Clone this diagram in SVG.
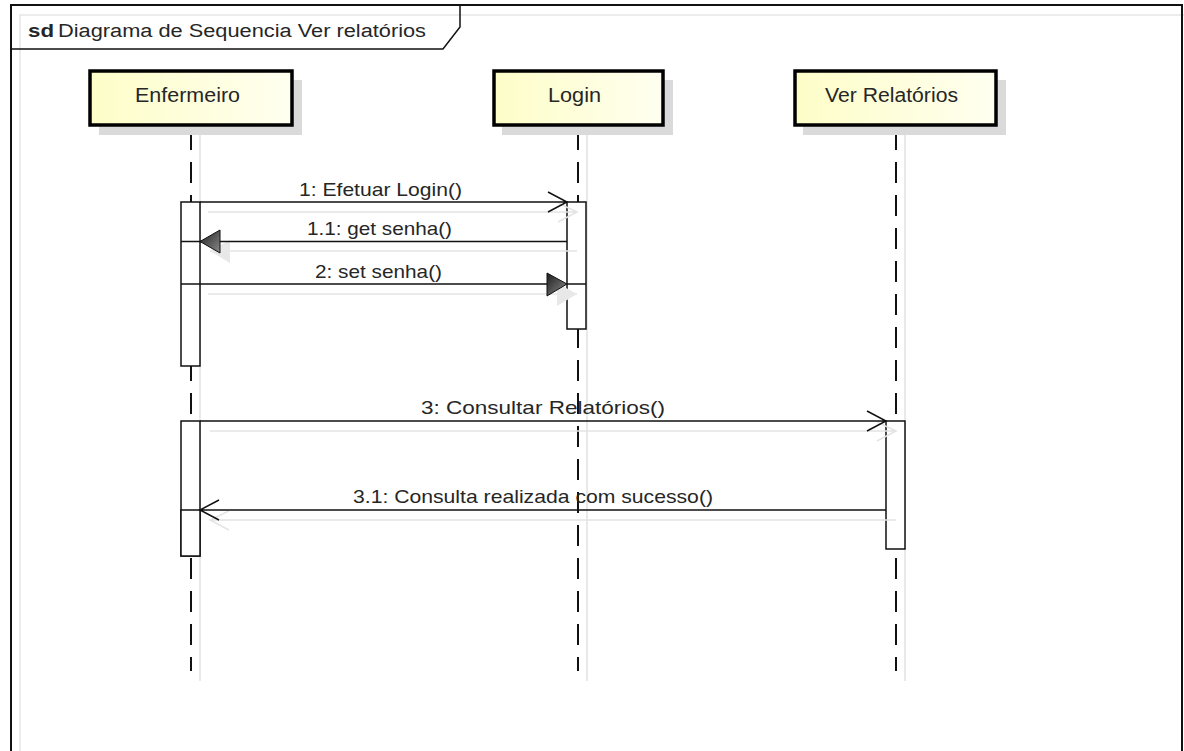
<svg xmlns="http://www.w3.org/2000/svg" width="1184" height="751" viewBox="0 0 1184 751">
<style>
text{font-family:"Liberation Sans",Arial,sans-serif;fill:#262626}
.lbl{font-size:19px;text-anchor:start}
.node{font-size:20px}
.life{stroke:#111;stroke-width:2;stroke-dasharray:21 12;fill:none}
.lifesh{stroke:#e2e2e2;stroke-width:1.5;fill:none}
.bar{fill:#fff;stroke:#111;stroke-width:1.5}
.msg{stroke:#111;stroke-width:1.5;fill:none}
.sh{stroke:#e4e4e4;stroke-width:1.5;fill:none}
.box{stroke:#000;stroke-width:3.5;fill:url(#yel)}
.boxsh{fill:#dadada}
</style>
<defs>
<linearGradient id="yel" x1="0" y1="0" x2="1" y2="0">
<stop offset="0" stop-color="#fdfdc8"/>
<stop offset="1" stop-color="#fffff0"/>
</linearGradient>
<linearGradient id="tri" x1="0" y1="0" x2="1" y2="1">
<stop offset="0" stop-color="#1e1e1e"/>
<stop offset="1" stop-color="#8a8a8a"/>
</linearGradient>
</defs>
<rect x="0" y="0" width="1184" height="751" fill="#fff"/>
<g id="frame">
<path d="M20 760 V15 H1190" fill="none" stroke="#e6e6e6" stroke-width="1.5"/>
<path d="M11 760 V5 H1182 V760" fill="none" stroke="#111" stroke-width="2"/>
<path d="M11 49 H443 L460 27 V5" fill="none" stroke="#111" stroke-width="1.5"/>
<text x="28" y="37" style="font-size:18px;font-weight:bold" textLength="26" lengthAdjust="spacingAndGlyphs">sd</text>
<text x="58" y="37" style="font-size:18px" textLength="368" lengthAdjust="spacingAndGlyphs">Diagrama de Sequencia Ver relatórios</text>
</g>
<g id="lifelines">
<line class="lifesh" x1="200" y1="135" x2="200" y2="681"/>
<line class="lifesh" x1="587" y1="135" x2="587" y2="681"/>
<line class="lifesh" x1="905" y1="135" x2="905" y2="681"/>
<line class="life" x1="191" y1="125" x2="191" y2="671" stroke-dashoffset="-4"/>
<line class="life" x1="578" y1="125" x2="578" y2="671" stroke-dashoffset="-4"/>
<line class="life" x1="896" y1="125" x2="896" y2="671" stroke-dashoffset="-4"/>
</g>
<g id="Enfermeiro">
<rect class="boxsh" x="99" y="80" width="203" height="55"/>
<rect class="box" x="90" y="71" width="202" height="54"/>
<text class="node" x="135" y="102" textLength="105" lengthAdjust="spacingAndGlyphs">Enfermeiro</text>
</g>
<g id="Login">
<rect class="boxsh" x="502" y="80" width="171" height="55"/>
<rect class="box" x="494" y="71" width="169" height="54"/>
<text class="node" x="548" y="102" textLength="53" lengthAdjust="spacingAndGlyphs">Login</text>
</g>
<g id="VerRelatorios">
<rect class="boxsh" x="803" y="80" width="203" height="55"/>
<rect class="box" x="795" y="71" width="201" height="54"/>
<text class="node" x="825" y="102" textLength="133" lengthAdjust="spacingAndGlyphs">Ver Relatórios</text>
</g>
<g id="activations">
<rect class="bar" x="181" y="202" width="19" height="164"/>
<rect class="bar" x="567" y="202" width="19" height="127"/>
<rect class="bar" x="181" y="421" width="19" height="135"/>
<rect class="bar" x="181" y="510" width="19" height="46"/>
<rect class="bar" x="886" y="421" width="19" height="128"/>
</g>
<g id="connectors">
<path class="sh" d="M208 212 H577 M558 203 L577 212 L558 222"/>
<path class="sh" d="M210 251 H577"/>
<path d="M210 251 L230 240 L230 263 Z" fill="#e8e8e8"/>
<path class="sh" d="M208 294 H577"/>
<path d="M577 294 L557 283 L557 306 Z" fill="#e8e8e8"/>
<path class="sh" d="M210 431 H896 M877 422 L896 431 L877 441"/>
<path class="sh" d="M210 520 H896 M229 511 L210 520 L229 530"/>
<path class="msg" d="M200 202 H567 M548 192 L567 202 L548 212"/>
<text class="lbl" x="299" y="196" textLength="163" lengthAdjust="spacingAndGlyphs">1: Efetuar Login()</text>
<path class="msg" d="M181 241.5 H567"/>
<path d="M200 241.5 L220 230 L220 253 Z" fill="url(#tri)" stroke="#111" stroke-width="1"/>
<text class="lbl" x="307" y="235" textLength="145" lengthAdjust="spacingAndGlyphs">1.1: get senha()</text>
<path class="msg" d="M181 284 H586"/>
<path d="M567 284 L547 273 L547 296 Z" fill="url(#tri)" stroke="#111" stroke-width="1"/>
<text class="lbl" x="315" y="278" textLength="127" lengthAdjust="spacingAndGlyphs">2: set senha()</text>
<path class="msg" d="M200 421 H886 M867 411 L886 421 L867 431"/>
<text class="lbl" x="421" y="414" textLength="244" lengthAdjust="spacingAndGlyphs">3: Consultar Relatórios()</text>
<path class="msg" d="M886 510 H200 M219 500 L200 510 L219 520"/>
<text class="lbl" x="353" y="503" textLength="360" lengthAdjust="spacingAndGlyphs">3.1: Consulta realizada com sucesso()</text>
</g>
</svg>
